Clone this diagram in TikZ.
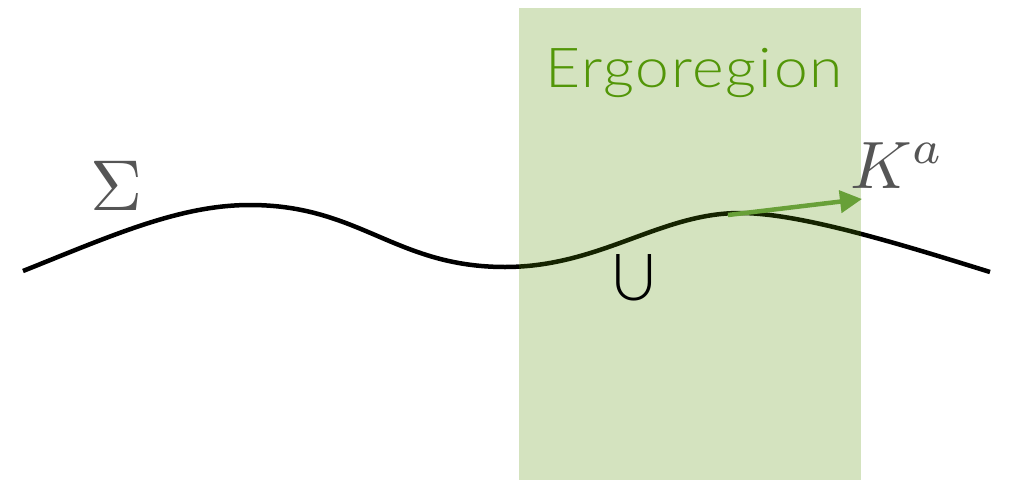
\documentclass[tikz,border=0pt]{standalone}
\usepackage{fontspec}
\setsansfont{Lato}[UprightFont=* Light]
\usetikzlibrary{arrows.meta}
\definecolor{ergofill}{RGB}{84,143,0}
\definecolor{ergotext}{RGB}{82,150,8}
\definecolor{kvec}{RGB}{104,160,56}
\definecolor{labgray}{RGB}{85,85,85}
\tikzset{
  surface/.style={line width=4.5pt, black},
  region/.style={fill=ergofill, fill opacity=0.25, draw=none},
  vecarrow/.style={line width=4.5pt, kvec, -{Triangle[length=22pt,width=22pt]}},
  mathlab/.style={inner sep=0pt, anchor=base west, text=labgray},
}
\begin{document}
\begin{tikzpicture}[x=1pt,y=-1pt]
\useasboundingbox (0,0) rectangle (1010,480);
% surface
\coordinate (s0) at (23,271);
\coordinate (s1) at (250,205);
\coordinate (s2) at (505,267);
\coordinate (s3) at (740,213);
\coordinate (s4) at (990,272);
\draw[surface] (s0) .. controls (113,235) and (180,205) .. (s1)
  .. controls (360,205) and (395,267) .. (s2)
  .. controls (600,267) and (660,213) .. (s3)
  .. controls (800,213) and (900,244) .. (s4);
% ergoregion
\path[region] (519,8) rectangle (861,480);
\node[inner sep=0pt, anchor=base west, text=ergotext] (ergo) at (545,87)
  {\fontsize{55}{55}\selectfont\sffamily\addfontfeatures{LetterSpace=3}\scalebox{1.1}[1]{Ergoregion}};
% vector
\coordinate (kstart) at (728,215);
\coordinate (ktip) at (862,199);
\draw[vecarrow] (kstart) -- (ktip);
% labels
\node[mathlab] (sigma) at (90,210) {\scalebox{7.2}{$\Sigma$}};
\node[mathlab] (kvec) at (850,188) {\scalebox{6.7}{$K^a$}};
\node[inner sep=0pt, anchor=base west] (U) at (610,300)
  {\fontsize{65}{65}\selectfont\sffamily U};
\end{tikzpicture}
\end{document}
